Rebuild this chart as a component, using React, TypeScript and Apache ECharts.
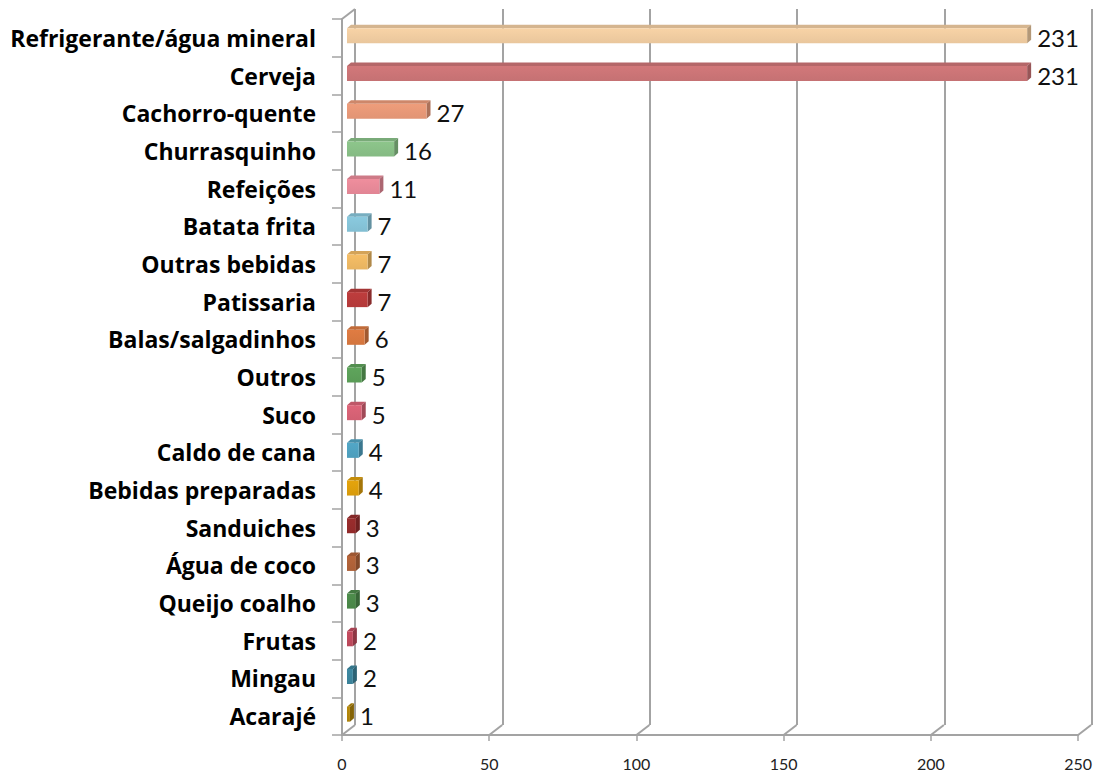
import React, { useEffect, useRef } from "react";
import * as echarts from "echarts";

const categories = [
  "Refrigerante/água mineral",
  "Cerveja",
  "Cachorro-quente",
  "Churrasquinho",
  "Refeições",
  "Batata frita",
  "Outras bebidas",
  "Patissaria",
  "Balas/salgadinhos",
  "Outros",
  "Suco",
  "Caldo de cana",
  "Bebidas preparadas",
  "Sanduiches",
  "Água de coco",
  "Queijo coalho",
  "Frutas",
  "Mingau",
  "Acarajé",
];

const values = [231, 231, 27, 16, 11, 7, 7, 7, 6, 5, 5, 4, 4, 3, 3, 3, 2, 2, 1];

const barColors = [
  "#F8D3A6",
  "#D2787A",
  "#EF9D7B",
  "#8DC68B",
  "#EF8E9D",
  "#8ACADF",
  "#F6BE66",
  "#BE3D3D",
  "#E07C42",
  "#5FA55C",
  "#DE6579",
  "#52A7C7",
  "#E5A40C",
  "#9A2D2D",
  "#B6653A",
  "#4E8D4C",
  "#C54C5F",
  "#3E89A2",
  "#B7890A",
];

const xTicks = { min: 0, max: 250, interval: 50 };

const WALL = "#A3A3A3";
const DX = 13; // wall depth offset
const DY = 10;

function shade(hex: string, f: number) {
  const n = parseInt(hex.slice(1), 16);
  const r = Math.round(((n >> 16) & 255) * f);
  const g = Math.round(((n >> 8) & 255) * f);
  const b = Math.round((n & 255) * f);
  return `rgb(${r},${g},${b})`;
}

export default function App() {
  const ref = useRef<HTMLDivElement>(null);

  useEffect(() => {
    if (!ref.current) return;
    const chart = echarts.init(ref.current, null, { renderer: "svg" });

    const tickVals: number[] = [];
    for (let t = xTicks.min; t <= xTicks.max; t += xTicks.interval) tickVals.push(t);

    const option: any = {
      animation: false,
      backgroundColor: "#ffffff",
      grid: [
        { left: 342, top: 19, width: 737, height: 716 },
        { left: 342 + DX, top: 19 - DY, width: 737, height: 716 },
      ],
      xAxis: [
        {
          type: "value",
          gridIndex: 0,
          min: xTicks.min,
          max: xTicks.max,
          interval: xTicks.interval,
          axisLine: { show: true, lineStyle: { color: WALL, width: 2 } },
          axisTick: { show: true, length: 6, lineStyle: { color: WALL, width: 1.5 } },
          splitLine: { show: false },
          axisLabel: {
            fontFamily: "Lato",
            fontSize: 16,
            color: "#222",
            margin: 20,
          },
        },
        {
          type: "value",
          gridIndex: 1,
          min: xTicks.min,
          max: xTicks.max,
          interval: xTicks.interval,
          axisLine: { show: false },
          axisTick: { show: false },
          axisLabel: { show: false },
          splitLine: { show: true, lineStyle: { color: WALL, width: 2 } },
        },
      ],
      yAxis: [
        {
          type: "category",
          gridIndex: 0,
          data: categories,
          inverse: true,
          axisLine: { show: true, lineStyle: { color: WALL, width: 2 } },
          axisTick: { show: true, length: 10, lineStyle: { color: WALL, width: 1.5 } },
          axisLabel: {
            fontFamily: "Open Sans",
            fontWeight: "bold",
            fontSize: 23,
            color: "#000",
            margin: 26,
          },
        },
        {
          type: "category",
          gridIndex: 1,
          data: categories,
          inverse: true,
          show: false,
        },
      ],
      series: [
        {
          type: "custom",
          xAxisIndex: 0,
          yAxisIndex: 0,
          z: 1,
          silent: true,
          data: tickVals.map((t) => [t, 0]),
          renderItem: (params: any, api: any) => {
            const cs = params.coordSys;
            const p = api.coord([api.value(0), 0]);
            const yb = cs.y + cs.height;
            const children: any[] = [
              {
                type: "line",
                shape: { x1: p[0], y1: yb, x2: p[0] + DX, y2: yb - DY },
                style: { stroke: WALL, lineWidth: 2 },
              },
            ];
            if (params.dataIndex === 0) {
              children.push({
                type: "line",
                shape: { x1: cs.x, y1: cs.y, x2: cs.x + DX, y2: cs.y - DY },
                style: { stroke: WALL, lineWidth: 2 },
              });
            }
            return { type: "group", children };
          },
        },
        {
          type: "custom",
          xAxisIndex: 0,
          yAxisIndex: 0,
          z: 3,
          silent: true,
          data: values.map((v, i) => [v, i]),
          renderItem: (params: any, api: any) => {
            const v = api.value(0);
            const idx = api.value(1);
            const p0 = api.coord([0, idx]);
            const p1 = api.coord([v, idx]);
            const c = p0[1];
            const col = barColors[params.dataIndex];
            const x0 = p0[0] + 5;
            const x1 = p1[0] + 5;
            const yt = c - 9.5;
            const yb = c + 5.5;
            const dx = 4;
            const dy = 3.5;
            return {
              type: "group",
              children: [
                {
                  type: "polygon",
                  shape: {
                    points: [
                      [x0, yt],
                      [x1, yt],
                      [x1 + dx, yt - dy],
                      [x0 + dx, yt - dy],
                    ],
                  },
                  style: { fill: shade(col, 0.86) },
                },
                {
                  type: "polygon",
                  shape: {
                    points: [
                      [x1, yt],
                      [x1 + dx, yt - dy],
                      [x1 + dx, yb - dy],
                      [x1, yb],
                    ],
                  },
                  style: { fill: shade(col, 0.72) },
                },
                {
                  type: "rect",
                  shape: { x: x0, y: yt, width: x1 - x0, height: yb - yt },
                  style: {
                    fill: {
                      type: "linear",
                      x: 0,
                      y: 0,
                      x2: 0,
                      y2: 1,
                      colorStops: [
                        { offset: 0, color: shade(col, 1.0) },
                        { offset: 1, color: shade(col, 0.94) },
                      ],
                    },
                  },
                },
                {
                  type: "text",
                  style: {
                    text: String(v),
                    x: x1 + dx + 6,
                    y: c - 0.5,
                    align: "left",
                    verticalAlign: "middle",
                    fontFamily: "Lato",
                    fontSize: 24,
                    fill: "#111",
                  },
                },
              ],
            };
          },
        },
      ],
    };

    chart.setOption(option);
    return () => chart.dispose();
  }, []);

  return (
    <div
      ref={ref}
      style={{ position: "fixed", left: 0, top: 0, width: 1095, height: 776, background: "#fff" }}
    />
  );
}
